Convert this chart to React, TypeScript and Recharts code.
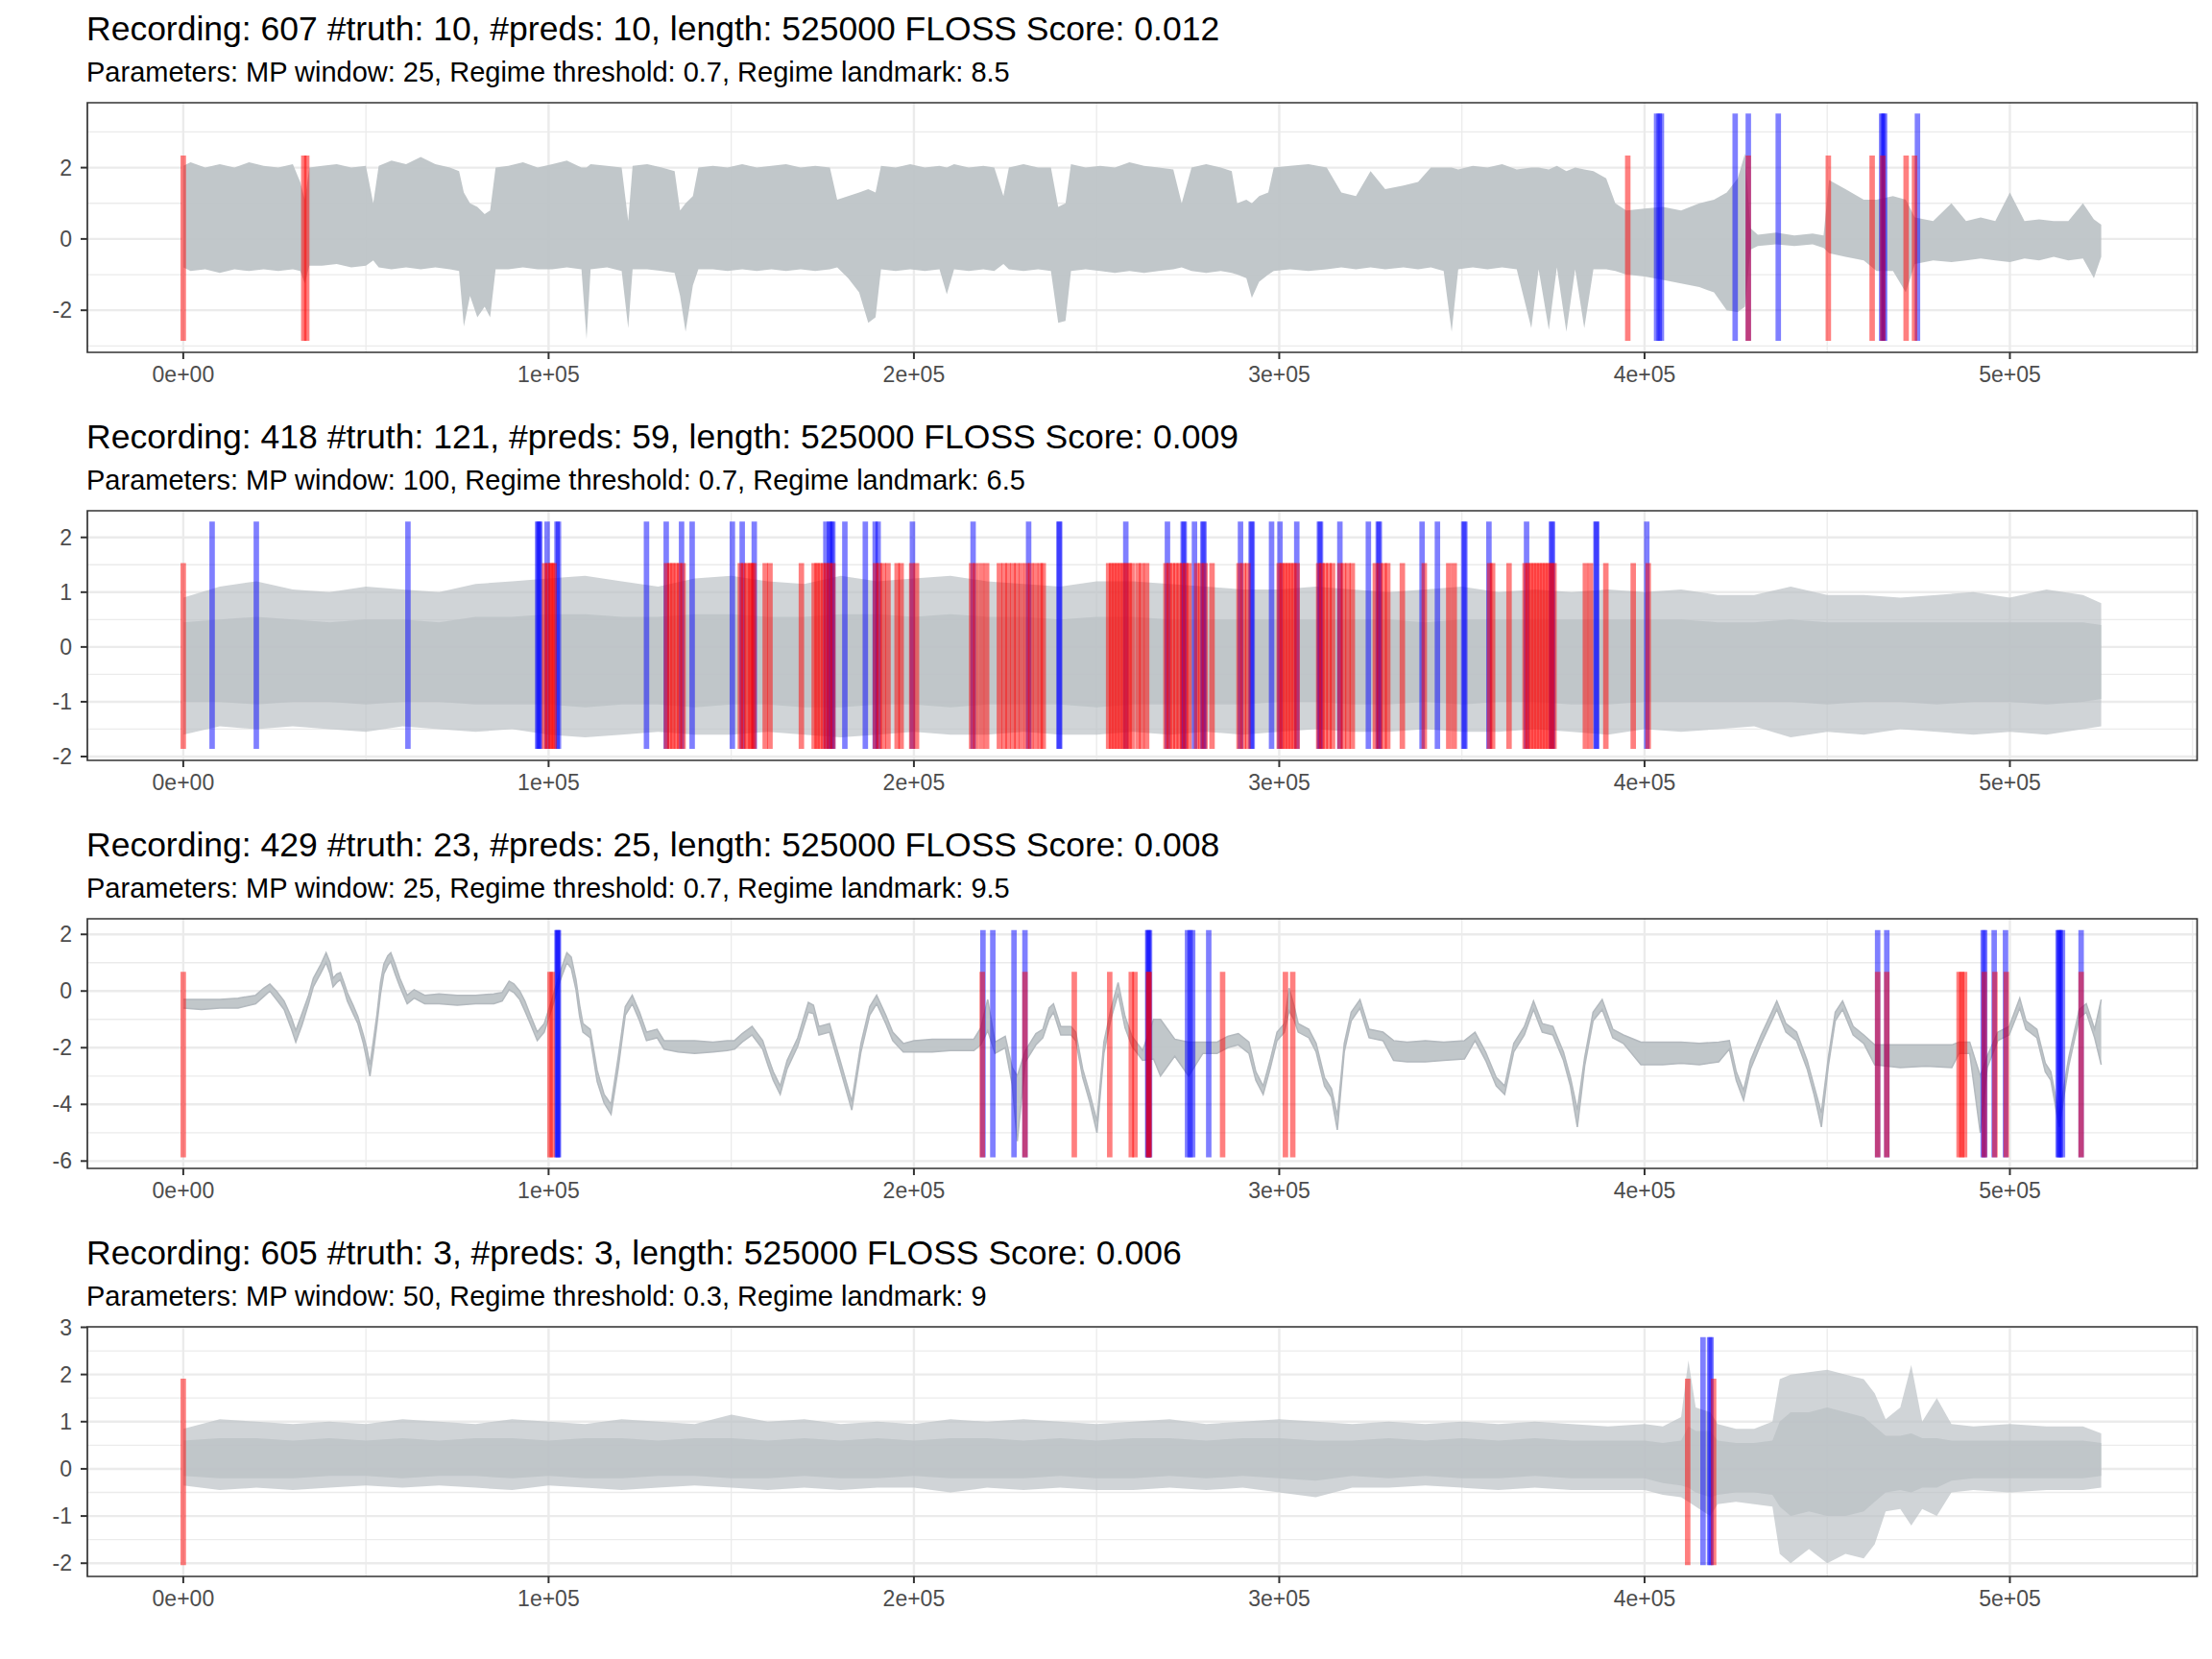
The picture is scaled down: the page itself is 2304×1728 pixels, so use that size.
import React from 'react';
import { ComposedChart, Area, XAxis, YAxis, CartesianGrid, ReferenceLine, ReferenceArea } from 'recharts';

// shared x axis
const xDomain = [-26250, 551250];
const xTicks = [0, 100000, 200000, 300000, 400000, 500000];
const xMinor = [50000, 150000, 250000, 350000, 450000, 550000];

// ---- recording 607 ----
// [x, low, high] envelope of the signal
const rec607Signal = [
  [0, -0.8, 2.05], [2000, -0.9, 2.15], [6000, -0.85, 2.0], [10000, -0.95, 2.1], [14000, -0.85, 2.0],
  [18000, -0.9, 2.15], [22000, -0.85, 2.05], [26000, -0.9, 2.0], [30000, -0.85, 2.1], [32000, -0.9, 1.6],
  [33300, -1.25, 1.1], [34500, -0.75, 2.0], [38000, -0.75, 2.05], [42000, -0.7, 2.1], [46000, -0.8, 2.0],
  [50000, -0.75, 2.05], [52000, -0.6, 1.0], [53500, -0.8, 2.05], [57000, -0.85, 2.2], [61000, -0.8, 2.1],
  [65000, -0.85, 2.3], [69000, -0.8, 2.1], [73000, -0.85, 2.0], [75500, -0.9, 1.9], [76800, -2.45, 1.3],
  [78500, -1.6, 1.0], [80500, -2.2, 0.9], [82500, -1.9, 0.7], [84000, -2.2, 0.8], [85500, -0.85, 2.0],
  [89000, -0.85, 2.05], [93000, -0.8, 2.15], [97000, -0.85, 2.0], [101000, -0.85, 2.1], [105000, -0.8, 2.2],
  [109000, -0.85, 2.0], [110400, -2.8, 2.0], [111500, -0.85, 2.1], [116000, -0.8, 2.05], [120000, -0.9, 2.0],
  [121800, -2.5, 0.5], [123000, -0.85, 2.05], [127000, -0.85, 2.1], [131000, -0.9, 2.0], [134500, -0.95, 1.9],
  [136000, -1.6, 0.8], [137500, -2.6, 1.0], [139500, -1.3, 1.2], [141000, -0.85, 2.0], [145000, -0.85, 2.05],
  [149000, -0.9, 2.0], [153000, -0.85, 2.1], [157000, -0.9, 2.0], [161000, -0.85, 2.05], [165000, -0.9, 2.1],
  [169000, -0.85, 2.0], [173000, -0.9, 2.05], [177000, -0.85, 2.0], [179000, -0.8, 1.1], [182000, -1.1, 1.2],
  [185000, -1.5, 1.3], [187500, -2.35, 1.4], [189500, -2.2, 1.3], [191000, -0.85, 2.05], [195000, -0.9, 2.0],
  [199000, -0.85, 2.1], [203000, -0.9, 2.0], [207000, -0.85, 2.05], [209000, -1.55, 2.0], [211000, -0.85, 2.1],
  [215000, -0.9, 2.0], [219000, -0.85, 2.05], [222000, -0.9, 2.0], [224500, -0.7, 1.2], [226000, -0.85, 2.0],
  [230000, -0.9, 2.1], [234000, -0.85, 2.0], [237500, -0.9, 2.0], [239500, -2.35, 0.9], [241500, -2.3, 1.0],
  [243000, -0.9, 2.1], [247000, -0.85, 2.0], [251000, -0.9, 2.05], [255000, -0.95, 2.0], [259000, -0.9, 2.15],
  [263000, -0.95, 2.05], [267000, -0.9, 2.0], [271000, -0.85, 1.95], [273300, -0.8, 1.0], [276000, -0.9, 2.0],
  [280000, -0.95, 2.1], [284000, -0.9, 2.0], [287000, -0.95, 1.9], [288500, -1.0, 1.0], [291000, -1.1, 1.1],
  [292500, -1.65, 1.0], [294500, -1.2, 1.2], [297000, -1.0, 1.3], [298500, -0.9, 2.0], [303000, -0.85, 2.05],
  [308000, -0.9, 2.1], [313000, -0.85, 2.0], [317000, -0.8, 1.3], [321000, -0.85, 1.2], [325000, -0.8, 1.9],
  [329000, -0.85, 1.4], [334000, -0.8, 1.5], [338000, -0.85, 1.6], [341500, -0.8, 2.0], [345000, -0.9, 2.0],
  [347200, -2.6, 2.0], [349000, -0.85, 1.95], [353000, -0.8, 2.05], [357000, -0.85, 2.0], [361000, -0.8, 2.1],
  [365000, -0.85, 1.95], [369000, -2.5, 2.0], [371000, -0.85, 2.0], [373800, -2.55, 1.95], [376000, -0.8, 2.05],
  [378600, -2.6, 1.9], [381000, -0.85, 2.0], [383500, -2.5, 1.95], [386000, -0.85, 1.9], [389500, -0.85, 1.7],
  [392000, -0.9, 1.0], [395000, -1.0, 0.8], [400000, -1.05, 0.85], [405000, -1.15, 0.9], [410000, -1.25, 0.8],
  [415000, -1.35, 1.0], [419000, -1.5, 1.1], [422500, -2.0, 1.3], [425500, -2.05, 1.7], [427500, -1.9, 2.4],
  [429000, -0.3, 0.3], [431000, -0.2, 0.12], [436000, -0.15, 0.18], [441000, -0.2, 0.1], [446000, -0.15, 0.15],
  [449000, -0.25, 0.1], [450500, -0.4, 1.65], [455000, -0.5, 1.4], [460000, -0.6, 1.1], [463500, -0.9, 1.1],
  [468000, -0.9, 1.2], [471500, -1.5, 1.1], [474000, -0.7, 0.6], [479000, -0.6, 0.5], [484000, -0.65, 1.0],
  [488000, -0.6, 0.5], [492000, -0.55, 0.6], [496000, -0.6, 0.5], [500000, -0.65, 1.3], [504000, -0.55, 0.5],
  [508000, -0.6, 0.55], [512000, -0.5, 0.5], [516000, -0.6, 0.5], [520000, -0.55, 1.0], [523000, -1.1, 0.55],
  [525000, -0.5, 0.4],
];
const rec607Truth = [0, 33000, 33800, 395400, 428400, 450300, 462300, 465200, 471600, 473900];
const rec607Preds = [403300, 404000, 404600, 424800, 428400, 436600, 464900, 465300, 465700, 474700];

// ---- recording 418 ----
// [x, low, high, denseLow, denseHigh]
const rec418Signal = [
  [0, -1.6, 0.9, -1.0, 0.45], [10000, -1.45, 1.1, -1.0, 0.5], [20000, -1.5, 1.2, -1.05, 0.55],
  [30000, -1.45, 1.05, -1.0, 0.5], [40000, -1.5, 1.0, -1.0, 0.45], [50000, -1.55, 1.1, -1.05, 0.5],
  [60000, -1.45, 1.05, -1.0, 0.5], [70000, -1.5, 1.0, -1.0, 0.45], [80000, -1.55, 1.15, -1.05, 0.55],
  [90000, -1.5, 1.2, -1.05, 0.55], [100000, -1.6, 1.25, -1.05, 0.6], [110000, -1.65, 1.3, -1.1, 0.6],
  [120000, -1.6, 1.2, -1.05, 0.55], [130000, -1.55, 1.1, -1.05, 0.55], [140000, -1.6, 1.25, -1.1, 0.6],
  [150000, -1.6, 1.3, -1.05, 0.6], [160000, -1.55, 1.2, -1.05, 0.55], [170000, -1.6, 1.15, -1.1, 0.55],
  [180000, -1.65, 1.3, -1.1, 0.6], [190000, -1.6, 1.2, -1.05, 0.6], [200000, -1.55, 1.25, -1.05, 0.55],
  [210000, -1.6, 1.3, -1.1, 0.6], [220000, -1.6, 1.2, -1.05, 0.55], [230000, -1.55, 1.15, -1.05, 0.55],
  [240000, -1.6, 1.1, -1.05, 0.5], [250000, -1.6, 1.2, -1.1, 0.55], [260000, -1.55, 1.2, -1.05, 0.55],
  [270000, -1.6, 1.15, -1.05, 0.5], [280000, -1.55, 1.1, -1.05, 0.5], [290000, -1.6, 1.05, -1.05, 0.5],
  [300000, -1.55, 1.05, -1.0, 0.5], [310000, -1.5, 1.1, -1.0, 0.5], [320000, -1.55, 1.05, -1.05, 0.5],
  [330000, -1.55, 1.0, -1.05, 0.5], [340000, -1.5, 1.05, -1.0, 0.45], [350000, -1.55, 1.1, -1.05, 0.5],
  [360000, -1.55, 1.0, -1.0, 0.5], [370000, -1.5, 1.05, -1.0, 0.5], [380000, -1.55, 1.0, -1.05, 0.5],
  [390000, -1.6, 1.05, -1.05, 0.5], [400000, -1.5, 1.0, -1.0, 0.5], [410000, -1.55, 1.05, -1.0, 0.5],
  [420000, -1.5, 0.95, -1.0, 0.45], [430000, -1.45, 0.95, -1.0, 0.45], [440000, -1.65, 1.1, -1.0, 0.5],
  [450000, -1.55, 0.95, -1.05, 0.45], [460000, -1.6, 0.95, -1.0, 0.45], [470000, -1.5, 0.9, -1.0, 0.45],
  [480000, -1.55, 0.95, -1.05, 0.45], [490000, -1.6, 1.0, -1.0, 0.45], [500000, -1.55, 0.9, -1.0, 0.45],
  [510000, -1.6, 1.05, -1.05, 0.45], [520000, -1.5, 0.95, -1.0, 0.45], [525000, -1.45, 0.8, -0.95, 0.4],
];
const rec418Truth = [
  0,
  98900, 99800, 100600, 101000, 101500,
  132300, 133200, 134000, 134900, 135800, 136800,
  152500, 153400, 154300, 155200, 155700, 156200,
  159300, 160600,
  169200,
  172700, 173500, 174300, 175200, 176000, 176900, 177800,
  189500, 190500, 191600, 192900,
  195400, 196500,
  199400, 200700,
  215800, 217000,
  218500, 219900,
  223400, 224700, 225800, 227100, 228200, 229500,
  230900, 232000, 233300, 234600, 235400,
  253300, 254100, 254900, 255700, 256500, 257300, 258100, 258900, 259700,
  261300, 262400, 263700,
  269000, 269900, 270800, 271700, 272600, 273500, 274400, 275300,
  277400, 278500, 279700, 281600,
  289000, 290200, 291400,
  300000, 300800, 301600, 302400, 303200, 304000, 304900,
  310800, 311700, 312600, 313600, 314600,
  316600, 317600, 318800, 320000,
  326300, 327500, 328700, 329700,
  333700,
  339700,
  346400, 347900,
  357600, 358400,
  362900,
  367300, 368100, 368900, 369700, 370500, 371300, 372100, 372900, 373700, 374500, 375200,
  383800, 385200,
  389400,
  396900,
  401000,
];
const rec418Preds = [
  7900, 20000, 61500, 97000, 97300, 97600, 99600, 102300, 102700, 126800, 132200, 136400, 139300,
  150300, 153000, 156300, 175900, 176900, 177400, 177800, 181100, 186700, 189400, 190200, 199600,
  216200, 231400, 239700, 239900, 258000, 269400, 273700, 274000, 276800, 279100, 279400, 289400,
  292300, 292600, 297900, 300200, 304800, 311000, 311300, 316600, 324400, 327100, 327400, 339100,
  343300, 350500, 350800, 357400, 367700, 374500, 374800, 386700, 386900, 400600,
];

// ---- recording 429 ----
const rec429Signal = [
  [0, -0.6, -0.3], [5000, -0.65, -0.3], [10000, -0.6, -0.3], [15000, -0.6, -0.25], [19800, -0.45, -0.15],
  [22000, -0.2, 0.1], [23700, 0.0, 0.25], [25500, -0.3, 0.0], [27600, -0.65, -0.35], [29500, -1.3, -0.9],
  [30800, -1.8, -1.4], [32500, -1.2, -0.8], [34300, -0.45, -0.15], [35600, 0.15, 0.45], [37500, 0.6, 0.9],
  [39100, 1.0, 1.35], [40200, 0.6, 1.0], [41000, 0.15, 0.45], [42000, 0.3, 0.6], [43000, 0.4, 0.65],
  [44000, 0.05, 0.3], [44900, -0.35, -0.05], [46500, -0.8, -0.5], [47800, -1.15, -0.9], [49300, -1.85, -1.55],
  [50200, -2.4, -2.0], [51100, -3.0, -2.6], [52000, -2.2, -1.8], [53000, -1.2, -0.85], [54000, -0.1, 0.3],
  [54900, 0.6, 0.95], [56000, 0.9, 1.25], [56800, 1.05, 1.35], [58000, 0.6, 0.95], [59300, 0.15, 0.45],
  [61300, -0.45, -0.15], [63200, -0.25, 0.05], [66100, -0.45, -0.15], [70000, -0.45, -0.1], [75000, -0.5, -0.15],
  [80000, -0.45, -0.15], [85000, -0.45, -0.1], [87300, -0.35, -0.05], [89200, 0.05, 0.35], [90500, -0.05, 0.25],
  [92100, -0.3, 0.0], [93500, -0.7, -0.35], [95000, -1.15, -0.85], [96900, -1.75, -1.45], [98800, -1.45, -1.15],
  [100800, -0.65, -0.35], [103100, 0.35, 0.65], [105000, 1.0, 1.35], [106200, 0.8, 1.2], [107500, 0.05, 0.4],
  [108500, -0.9, -0.5], [109400, -1.45, -1.15], [111400, -1.65, -1.35], [113300, -3.2, -2.8], [115200, -3.95, -3.65],
  [117100, -4.35, -4.0], [119100, -2.7, -2.3], [121000, -0.85, -0.55], [122900, -0.45, -0.15], [124900, -1.05, -0.75],
  [126800, -1.75, -1.45], [129700, -1.65, -1.35], [131600, -2.05, -1.75], [135500, -2.15, -1.75], [140000, -2.2, -1.75],
  [145000, -2.15, -1.8], [148900, -2.1, -1.75], [150900, -2.05, -1.75], [153000, -1.8, -1.5], [155700, -1.55, -1.25],
  [158600, -2.05, -1.75], [160000, -2.6, -2.3], [161500, -3.15, -2.85], [163400, -3.65, -3.35], [165300, -2.75, -2.45],
  [168200, -1.95, -1.65], [171100, -0.75, -0.4], [172500, -0.8, -0.5], [174000, -1.55, -1.25], [176900, -1.45, -1.15],
  [179800, -2.75, -2.45], [183000, -4.2, -3.9], [185500, -2.15, -1.85], [187900, -0.85, -0.55], [189800, -0.45, -0.15],
  [192300, -1.15, -0.85], [194200, -1.75, -1.45], [197100, -2.15, -1.85], [200000, -2.15, -1.75], [205000, -2.15, -1.7],
  [210000, -2.1, -1.7], [216400, -2.1, -1.7], [218300, -1.9, -1.3], [220200, -1.4, -0.3], [222200, -2.2, -1.8],
  [225000, -2.0, -1.6], [226900, -3.3, -2.7], [228300, -5.3, -3.0], [230500, -2.5, -2.1], [233400, -1.9, -1.5],
  [235300, -1.65, -1.35], [237000, -1.0, -0.6], [238200, -0.75, -0.45], [240200, -1.55, -1.25], [243000, -1.55, -1.25],
  [244300, -1.75, -1.45], [246200, -3.05, -2.75], [248200, -3.95, -3.65], [250100, -5.0, -4.6], [252000, -2.2, -1.8],
  [254000, -0.95, -0.6], [255900, -0.1, 0.3], [257800, -1.3, -0.9], [259700, -1.95, -1.6], [262600, -2.45, -2.1],
  [265600, -2.4, -1.0], [267500, -3.0, -1.0], [271400, -2.3, -1.7], [275200, -3.0, -1.8], [279100, -2.2, -1.8],
  [283000, -2.2, -1.8], [285900, -2.0, -1.6], [288800, -1.9, -1.5], [291700, -2.2, -1.8], [293600, -3.15, -2.85],
  [295600, -3.65, -3.35], [297500, -2.75, -2.45], [299400, -1.75, -1.45], [301400, -1.45, -1.15], [302700, -0.7, 0.1],
  [304000, -1.0, -0.5], [305200, -1.45, -1.15], [308100, -1.65, -1.35], [310100, -2.15, -1.85], [312400, -3.35, -3.05],
  [314300, -3.75, -3.45], [315900, -4.9, -4.4], [317800, -2.15, -1.85], [319700, -1.05, -0.75], [322100, -0.6, -0.3],
  [324600, -1.65, -1.35], [328400, -1.75, -1.45], [331300, -2.45, -1.75], [335000, -2.5, -1.8], [340000, -2.5, -1.75],
  [345000, -2.45, -1.8], [350700, -2.4, -1.75], [353600, -1.75, -1.45], [356500, -2.45, -2.15], [359400, -3.35, -3.05],
  [361700, -3.65, -3.35], [364200, -2.15, -1.85], [367100, -1.55, -1.25], [369600, -0.65, -0.35], [372000, -1.45, -1.15],
  [374900, -1.55, -1.25], [377800, -2.45, -2.15], [379700, -3.35, -3.05], [381600, -4.8, -4.2], [383600, -2.65, -2.35],
  [385900, -1.05, -0.75], [388400, -0.65, -0.3], [391300, -1.65, -1.35], [394200, -1.85, -1.55], [399000, -2.6, -1.8],
  [405000, -2.6, -1.8], [410000, -2.55, -1.8], [415000, -2.6, -1.85], [420300, -2.5, -1.8], [423200, -2.05, -1.75],
  [425100, -3.15, -2.85], [427100, -3.85, -3.5], [429000, -2.75, -2.45], [431900, -1.85, -1.55], [434800, -1.05, -0.75],
  [436200, -0.65, -0.35], [438700, -1.45, -1.15], [441600, -1.75, -1.45], [444500, -2.75, -2.45], [446400, -3.65, -3.35],
  [448400, -4.8, -4.3], [450300, -2.65, -2.35], [452200, -1.05, -0.75], [454200, -0.65, -0.35], [457100, -1.55, -1.25],
  [460000, -1.85, -1.55], [463000, -2.6, -1.9], [470000, -2.7, -1.9], [477000, -2.65, -1.9], [484100, -2.7, -1.9],
  [486100, -2.2, -1.8], [489000, -2.2, -1.8], [491900, -5.0, -3.0], [493800, -2.7, -2.3], [496700, -1.75, -1.45],
  [499800, -1.55, -1.25], [502700, -0.6, -0.25], [504400, -1.35, -1.05], [507400, -1.65, -1.35], [509700, -2.85, -2.55],
  [511200, -3.15, -2.85], [513500, -4.8, -4.4], [516100, -2.65, -2.35], [519000, -0.95, -0.65], [520900, -0.75, -0.45],
  [523200, -1.65, -1.35], [525000, -2.6, -0.3],
];
const rec429Truth = [
  0, 100400, 101000, 218700, 230400, 243900, 253600, 259500, 260500, 264200, 264400, 284500,
  301700, 303700, 463800, 466300, 486100, 486800, 487600, 493000, 495900, 499000, 519500,
];
const rec429Preds = [
  102300, 102500, 102700, 218900, 221600, 227400, 230400, 264000, 264200, 264500, 274900, 275600, 276300,
  280700, 463800, 466300, 492700, 493100, 495700, 498800, 513200, 513500, 513800, 514400, 519500,
];

// ---- recording 605 ----
const rec605Signal = [
  [0, -0.35, 0.85, -0.15, 0.6], [10000, -0.45, 1.05, -0.2, 0.65], [20000, -0.4, 1.0, -0.2, 0.65],
  [30000, -0.45, 0.95, -0.2, 0.6], [40000, -0.4, 1.0, -0.15, 0.65], [50000, -0.35, 0.95, -0.15, 0.6],
  [60000, -0.4, 1.05, -0.2, 0.65], [70000, -0.35, 1.0, -0.15, 0.6], [80000, -0.4, 0.95, -0.15, 0.65],
  [90000, -0.45, 1.05, -0.2, 0.65], [100000, -0.35, 1.0, -0.15, 0.6], [110000, -0.4, 0.95, -0.2, 0.65],
  [120000, -0.45, 1.05, -0.2, 0.65], [130000, -0.4, 1.0, -0.15, 0.6], [140000, -0.35, 0.95, -0.15, 0.65],
  [150000, -0.4, 1.15, -0.2, 0.65], [160000, -0.45, 1.0, -0.2, 0.6], [170000, -0.4, 1.05, -0.15, 0.65],
  [180000, -0.45, 0.95, -0.2, 0.6], [190000, -0.4, 1.0, -0.2, 0.65], [200000, -0.4, 0.95, -0.15, 0.6],
  [210000, -0.5, 1.05, -0.2, 0.65], [220000, -0.4, 1.0, -0.2, 0.65], [230000, -0.45, 1.05, -0.2, 0.6],
  [240000, -0.4, 1.0, -0.15, 0.65], [250000, -0.45, 0.95, -0.2, 0.6], [260000, -0.45, 1.0, -0.2, 0.65],
  [270000, -0.4, 1.05, -0.15, 0.65], [280000, -0.45, 0.95, -0.2, 0.6], [290000, -0.4, 1.0, -0.15, 0.65],
  [300000, -0.5, 1.05, -0.2, 0.65], [310000, -0.6, 1.0, -0.25, 0.6], [320000, -0.4, 0.95, -0.15, 0.6],
  [330000, -0.4, 1.0, -0.2, 0.65], [340000, -0.35, 0.95, -0.15, 0.6], [350000, -0.4, 1.0, -0.2, 0.65],
  [360000, -0.45, 0.95, -0.2, 0.6], [370000, -0.4, 1.0, -0.15, 0.65], [380000, -0.45, 0.95, -0.2, 0.6],
  [390000, -0.45, 0.9, -0.2, 0.6], [400000, -0.45, 0.95, -0.2, 0.6], [405000, -0.55, 0.9, -0.3, 0.55],
  [410000, -0.6, 1.1, -0.35, 0.6], [412000, -0.7, 2.3, -0.4, 0.9], [414000, -0.8, 1.3, -0.5, 0.8],
  [418000, -1.0, 1.2, -0.6, 0.8], [420000, -0.75, 0.95, -0.55, 0.6], [425000, -0.7, 0.85, -0.5, 0.55],
  [430000, -0.75, 0.85, -0.5, 0.55], [435000, -0.8, 1.0, -0.55, 0.6], [437000, -1.8, 1.9, -0.8, 1.0],
  [440000, -2.0, 2.0, -1.0, 1.2], [445000, -1.7, 2.05, -0.9, 1.2], [450000, -2.0, 2.1, -1.0, 1.3],
  [455000, -1.8, 2.0, -1.0, 1.2], [460000, -1.9, 1.9, -0.9, 1.1], [463000, -1.6, 1.6, -0.7, 0.9],
  [466000, -0.9, 1.05, -0.5, 0.7], [470000, -0.85, 1.3, -0.45, 0.7], [473000, -1.2, 2.2, -0.5, 0.75],
  [476000, -0.85, 1.0, -0.4, 0.65], [480000, -1.0, 1.5, -0.4, 0.65], [484000, -0.5, 0.95, -0.25, 0.6],
  [490000, -0.45, 0.9, -0.2, 0.6], [500000, -0.5, 0.95, -0.2, 0.6], [510000, -0.45, 0.9, -0.2, 0.6],
  [520000, -0.45, 0.9, -0.2, 0.6], [525000, -0.4, 0.75, -0.15, 0.55],
];
const rec605Truth = [0, 411800, 418900];
const rec605Preds = [416000, 417800, 418200];

const fmtX = (v: number) => (v === 0 ? '0e+00' : `${v / 100000}e+05`);

interface PanelProps {
  top: number;
  title: string;
  subtitle: string;
  signal: number[][];
  truth: number[];
  preds: number[];
  yDomain: number[];
  yTicks: number[];
  yMinor: number[];
  truthSpan: number[];
  predSpan: number[];
  thin?: boolean;
}

const Panel: React.FC<PanelProps> = ({ top, title, subtitle, signal, truth, preds, yDomain, yTicks, yMinor, truthSpan, predSpan, thin }) => {
  const data = signal.map((r) => ({
    x: r[0],
    band: [r[1], r[2]],
    core: r.length > 3 ? [r[3], r[4]] : null,
  }));
  const hasCore = signal[0].length > 3;
  return (
    <div style={{ position: 'absolute', left: 0, top, width: 2304, height: 425 }}>
      <svg width={2304} height={100} style={{ position: 'absolute', left: 0, top: 0 }}>
        <text x={90} y={41.7} fontSize={35.5} fill="#000000">{title}</text>
        <text x={90} y={85} fontSize={29} fill="#000000">{subtitle}</text>
      </svg>
      <ComposedChart width={2304} height={425} data={data} margin={{ top: 107, right: 15.5, bottom: 18, left: 1 }}>
        <CartesianGrid stroke="#EBEBEB" strokeWidth={1.3} horizontalValues={yMinor} verticalValues={xMinor} />
        <CartesianGrid stroke="#EBEBEB" strokeWidth={2.4} horizontalValues={yTicks} verticalValues={xTicks} />
        <XAxis
          type="number"
          dataKey="x"
          domain={xDomain}
          ticks={xTicks}
          interval={0}
          allowDataOverflow
          tickFormatter={fmtX}
          axisLine={false}
          tickSize={7}
          tickMargin={8}
          tickLine={{ stroke: '#333333', strokeWidth: 2 }}
          tick={{ fill: '#4D4D4D', fontSize: 23 }}
          height={40}
        />
        <YAxis
          type="number"
          domain={yDomain}
          ticks={yTicks}
          interval={0}
          allowDataOverflow
          axisLine={false}
          tickSize={7}
          tickMargin={9}
          tickLine={{ stroke: '#333333', strokeWidth: 2 }}
          tick={{ fill: '#4D4D4D', fontSize: 23 }}
          width={90}
        />
        <Area
          dataKey="band"
          type="linear"
          stroke={thin ? '#B3B9BE' : 'none'}
          strokeWidth={1.5}
          fill="#BCC2C6"
          fillOpacity={hasCore ? 0.7 : 0.92}
          dot={false}
          activeDot={false}
          isAnimationActive={false}
        />
        {hasCore && (
          <Area
            dataKey="core"
            type="linear"
            stroke="none"
            fill="#BCC2C6"
            fillOpacity={0.8}
            dot={false}
            activeDot={false}
            isAnimationActive={false}
          />
        )}
        {preds.map((p, i) => (
          <ReferenceLine
            key={`p${i}`}
            segment={[{ x: p, y: predSpan[0] }, { x: p, y: predSpan[1] }]}
            stroke="#0000FF"
            strokeOpacity={0.5}
            strokeWidth={5.7}
          />
        ))}
        {truth.map((t, i) => (
          <ReferenceLine
            key={`t${i}`}
            segment={[{ x: t, y: truthSpan[0] }, { x: t, y: truthSpan[1] }]}
            stroke="#FF0000"
            strokeOpacity={0.5}
            strokeWidth={5.7}
          />
        ))}
        <ReferenceArea
          x1={xDomain[0]}
          x2={xDomain[1]}
          y1={yDomain[0]}
          y2={yDomain[1]}
          fill="none"
          stroke="#333333"
          strokeWidth={1.7}
          ifOverflow="visible"
        />
      </ComposedChart>
    </div>
  );
};

export default function App() {
  return (
    <div
      style={{
        position: 'absolute',
        left: 0,
        top: 0,
        width: 2304,
        height: 1728,
        background: '#FFFFFF',
        fontFamily: '"Liberation Sans", Arial, sans-serif',
      }}
    >
      <Panel
        top={0}
        title="Recording: 607 #truth: 10, #preds: 10, length: 525000 FLOSS Score: 0.012"
        subtitle="Parameters: MP window: 25, Regime threshold: 0.7, Regime landmark: 8.5"
        signal={rec607Signal}
        truth={rec607Truth}
        preds={rec607Preds}
        yDomain={[-3.18, 3.82]}
        yTicks={[-2, 0, 2]}
        yMinor={[-3, -1, 1, 3]}
        truthSpan={[-2.86, 2.34]}
        predSpan={[-2.86, 3.52]}
      />
      <Panel
        top={424.9}
        title="Recording: 418 #truth: 121, #preds: 59, length: 525000 FLOSS Score: 0.009"
        subtitle="Parameters: MP window: 100, Regime threshold: 0.7, Regime landmark: 6.5"
        signal={rec418Signal}
        truth={rec418Truth}
        preds={rec418Preds}
        yDomain={[-2.07, 2.486]}
        yTicks={[-2, -1, 0, 1, 2]}
        yMinor={[-1.5, -0.5, 0.5, 1.5]}
        truthSpan={[-1.86, 1.53]}
        predSpan={[-1.86, 2.29]}
      />
      <Panel
        top={849.8}
        title="Recording: 429 #truth: 23, #preds: 25, length: 525000 FLOSS Score: 0.008"
        subtitle="Parameters: MP window: 25, Regime threshold: 0.7, Regime landmark: 9.5"
        signal={rec429Signal}
        truth={rec429Truth}
        preds={rec429Preds}
        yDomain={[-6.26, 2.55]}
        yTicks={[-6, -4, -2, 0, 2]}
        yMinor={[-5, -3, -1, 1]}
        truthSpan={[-5.87, 0.68]}
        predSpan={[-5.87, 2.15]}
        thin
      />
      <Panel
        top={1274.7}
        title="Recording: 605 #truth: 3, #preds: 3, length: 525000 FLOSS Score: 0.006"
        subtitle="Parameters: MP window: 50, Regime threshold: 0.3, Regime landmark: 9"
        signal={rec605Signal}
        truth={rec605Truth}
        preds={rec605Preds}
        yDomain={[-2.28, 3.01]}
        yTicks={[-2, -1, 0, 1, 2, 3]}
        yMinor={[-1.5, -0.5, 0.5, 1.5, 2.5]}
        truthSpan={[-2.04, 1.91]}
        predSpan={[-2.04, 2.79]}
      />
    </div>
  );
}
